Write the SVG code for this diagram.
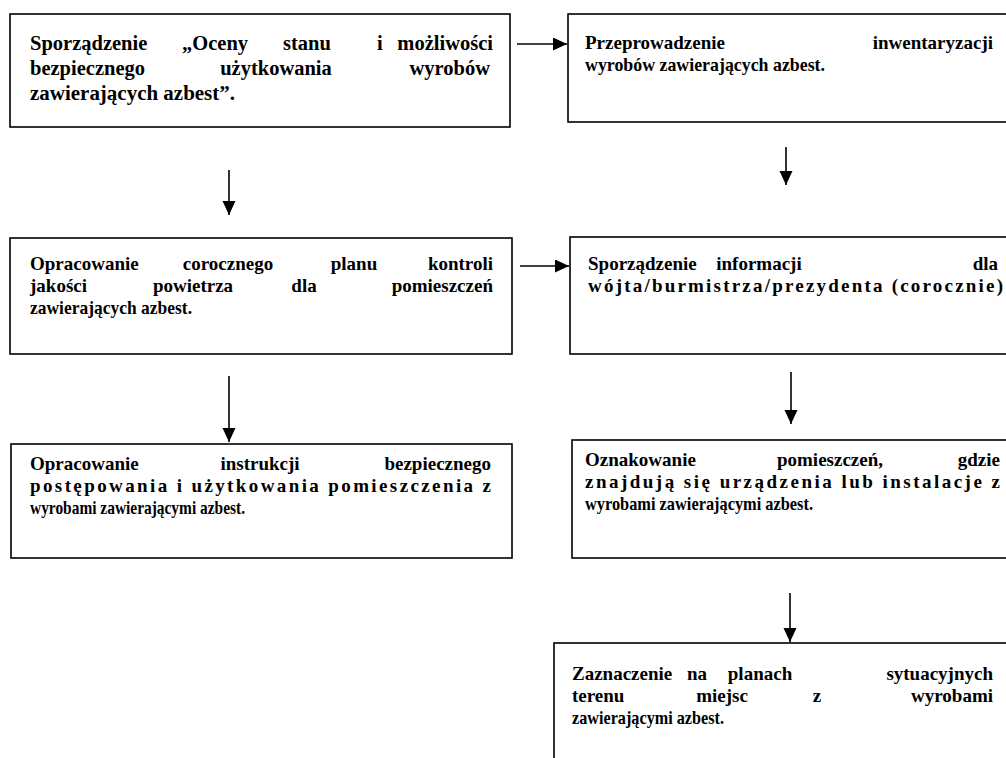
<svg xmlns="http://www.w3.org/2000/svg" width="1006" height="758" viewBox="0 0 1006 758">
<style>
.box{fill:#fff;stroke:#000;stroke-width:1.6}
.t{font-family:"Liberation Serif","Times New Roman",serif;font-weight:bold;font-size:19px;fill:#000}
.b{font-size:20.5px}
.e{text-anchor:end}
.m{text-anchor:middle}
.c{stroke:#000;stroke-width:1.6;fill:none;marker-end:url(#ah)}
</style>
<defs>
<marker id="ah" markerUnits="userSpaceOnUse" markerWidth="16" markerHeight="16" refX="14" refY="6.5" orient="auto"><path d="M0,0 L14,6.5 L0,13 Z" fill="#000"/></marker>
</defs>
<rect width="1006" height="758" fill="#fff"/>
<g id="connectors">
<line class="c" x1="517" y1="44" x2="567" y2="44"/>
<line class="c" x1="229" y1="170" x2="229" y2="215"/>
<line class="c" x1="786" y1="147" x2="786" y2="185"/>
<line class="c" x1="520" y1="266" x2="569" y2="266"/>
<line class="c" x1="229" y1="376" x2="229" y2="442"/>
<line class="c" x1="791" y1="372" x2="791" y2="424"/>
<line class="c" x1="790" y1="593" x2="790" y2="642"/>
</g>
<g id="n1">
<rect class="box" x="10" y="14" width="500" height="113"/>
<text class="t b" x="30" y="50">Sporządzenie</text>
<text class="t b" x="182" y="50">„Oceny</text>
<text class="t b" x="283" y="50">stanu</text>
<text class="t b" x="377" y="50">i</text>
<text class="t b e" x="493" y="50">możliwości</text>
<text class="t b" x="30" y="75">bezpiecznego</text>
<text class="t b m" x="276" y="75">użytkowania</text>
<text class="t b e" x="490" y="75">wyrobów</text>
<text class="t b" x="30" y="100" textLength="205" lengthAdjust="spacingAndGlyphs">zawierających azbest”.</text>
</g>
<g id="n2">
<rect class="box" x="568" y="14" width="450" height="108"/>
<text class="t" x="585" y="49">Przeprowadzenie</text>
<text class="t e" x="993" y="49">inwentaryzacji</text>
<text class="t" x="585" y="71" textLength="240" lengthAdjust="spacingAndGlyphs">wyrobów zawierających azbest.</text>
</g>
<g id="n3">
<rect class="box" x="10" y="238" width="502" height="116"/>
<text class="t" x="30" y="270">Opracowanie</text>
<text class="t m" x="228" y="270">corocznego</text>
<text class="t m" x="354" y="270">planu</text>
<text class="t e" x="493" y="270">kontroli</text>
<text class="t" x="30" y="292">jakości</text>
<text class="t m" x="193" y="292">powietrza</text>
<text class="t m" x="304" y="292">dla</text>
<text class="t e" x="493" y="292">pomieszczeń</text>
<text class="t" x="30" y="314" textLength="162" lengthAdjust="spacingAndGlyphs">zawierających azbest.</text>
</g>
<g id="n4">
<rect class="box" x="570" y="237" width="450" height="117"/>
<text class="t" x="588" y="270">Sporządzenie</text>
<text class="t m" x="759" y="270">informacji</text>
<text class="t e" x="998" y="270">dla</text>
<text class="t" x="588" y="292" textLength="415" lengthAdjust="spacing">wójta/burmistrza/prezydenta (corocznie)</text>
</g>
<g id="n5">
<rect class="box" x="11" y="444" width="501" height="114"/>
<text class="t" x="30" y="470">Opracowanie</text>
<text class="t m" x="260" y="470">instrukcji</text>
<text class="t e" x="491" y="470">bezpiecznego</text>
<text class="t" x="30" y="492" textLength="461" lengthAdjust="spacing">postępowania i użytkowania pomieszczenia z</text>
<text class="t" x="30" y="514" textLength="215" lengthAdjust="spacingAndGlyphs">wyrobami zawierającymi azbest.</text>
</g>
<g id="n6">
<rect class="box" x="572" y="440" width="450" height="118"/>
<text class="t" x="585" y="466">Oznakowanie</text>
<text class="t m" x="830" y="466">pomieszczeń,</text>
<text class="t e" x="1000" y="466">gdzie</text>
<text class="t" x="585" y="488" textLength="415" lengthAdjust="spacing">znajdują się urządzenia lub instalacje z</text>
<text class="t" x="585" y="510" textLength="228" lengthAdjust="spacingAndGlyphs">wyrobami zawierającymi azbest.</text>
</g>
<g id="n7">
<rect class="box" x="554" y="643" width="470" height="130"/>
<text class="t" x="572" y="680">Zaznaczenie</text>
<text class="t m" x="697" y="680">na</text>
<text class="t m" x="760" y="680">planach</text>
<text class="t e" x="993" y="680">sytuacyjnych</text>
<text class="t" x="572" y="702">terenu</text>
<text class="t m" x="722" y="702">miejsc</text>
<text class="t m" x="817" y="702">z</text>
<text class="t e" x="993" y="702">wyrobami</text>
<text class="t" x="572" y="724" textLength="152" lengthAdjust="spacingAndGlyphs">zawierającymi azbest.</text>
</g>
</svg>
